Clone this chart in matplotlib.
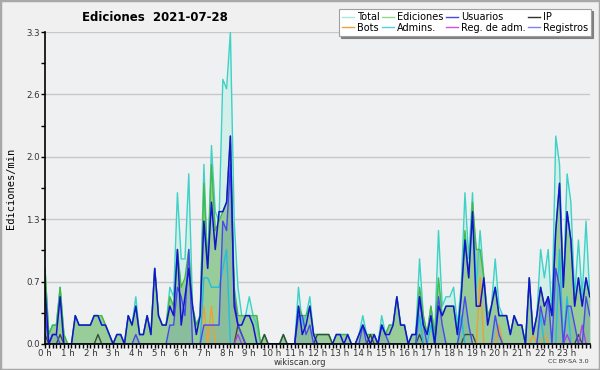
import matplotlib
matplotlib.use("Agg")
import matplotlib.pyplot as plt
from matplotlib.lines import Line2D
from matplotlib.patches import Rectangle
import numpy as np

# edits per minute, 10-minute buckets, 0:00 .. 24:00
total = [
    0.8, 0.1, 0.2, 0.2, 0.6, 0.1, 0.0, 0.0, 0.3, 0.2, 0.2, 0.2,
    0.2, 0.3, 0.3, 0.2, 0.2, 0.1, 0.0, 0.1, 0.1, 0.0, 0.3, 0.2,
    0.5, 0.1, 0.1, 0.3, 0.1, 0.8, 0.3, 0.2, 0.2, 0.6, 0.5, 1.6,
    0.9, 0.9, 1.8, 0.4, 0.2, 0.3, 1.9, 0.8, 2.1, 1.4, 1.3, 2.8,
    2.7, 3.3, 1.3, 0.6, 0.3, 0.3, 0.5, 0.3, 0.2, 0.0, 0.1, 0.0,
    0.0, 0.0, 0.0, 0.1, 0.0, 0.0, 0.0, 0.6, 0.2, 0.3, 0.5, 0.1,
    0.1, 0.1, 0.1, 0.1, 0.0, 0.1, 0.1, 0.1, 0.1, 0.0, 0.0, 0.1,
    0.3, 0.1, 0.1, 0.1, 0.0, 0.3, 0.1, 0.2, 0.2, 0.5, 0.2, 0.2,
    0.0, 0.1, 0.1, 0.9, 0.3, 0.1, 0.4, 0.1, 1.2, 0.4, 0.5, 0.5,
    0.6, 0.2, 0.6, 1.6, 0.9, 1.6, 0.6, 1.2, 0.7, 0.3, 0.4, 0.9,
    0.4, 0.3, 0.3, 0.1, 0.3, 0.2, 0.2, 0.0, 0.7, 0.1, 0.3, 1.0,
    0.7, 1.0, 0.3, 2.2, 1.9, 0.6, 1.8, 1.5, 0.5, 1.1, 0.5, 1.3,
    0.5]

ediciones = [
    0.8, 0.1, 0.2, 0.2, 0.6, 0.1, 0.0, 0.0, 0.3, 0.2, 0.2, 0.2,
    0.2, 0.3, 0.3, 0.3, 0.2, 0.1, 0.0, 0.1, 0.1, 0.0, 0.3, 0.2,
    0.4, 0.1, 0.1, 0.3, 0.1, 0.8, 0.3, 0.2, 0.2, 0.5, 0.4, 1.0,
    0.6, 0.7, 1.0, 0.4, 0.2, 0.3, 1.7, 0.8, 1.9, 1.2, 1.3, 1.4,
    1.5, 2.2, 0.6, 0.3, 0.3, 0.3, 0.3, 0.3, 0.3, 0.0, 0.1, 0.0,
    0.0, 0.0, 0.0, 0.1, 0.0, 0.0, 0.0, 0.4, 0.3, 0.3, 0.4, 0.1,
    0.1, 0.1, 0.1, 0.1, 0.0, 0.1, 0.1, 0.1, 0.1, 0.0, 0.0, 0.1,
    0.2, 0.1, 0.1, 0.1, 0.0, 0.2, 0.1, 0.2, 0.2, 0.5, 0.2, 0.2,
    0.0, 0.1, 0.1, 0.6, 0.3, 0.1, 0.4, 0.1, 0.7, 0.3, 0.4, 0.4,
    0.4, 0.1, 0.5, 1.2, 0.7, 1.5, 1.0, 1.0, 0.7, 0.3, 0.4, 0.6,
    0.3, 0.3, 0.3, 0.1, 0.3, 0.2, 0.2, 0.0, 0.7, 0.1, 0.3, 0.6,
    0.4, 0.5, 0.3, 1.2, 1.7, 0.6, 1.4, 1.1, 0.4, 0.7, 0.4, 0.7,
    0.5]

usuarios = [
    0.6, 0.0, 0.1, 0.1, 0.5, 0.0, 0.0, 0.0, 0.3, 0.2, 0.2, 0.2,
    0.2, 0.3, 0.3, 0.2, 0.2, 0.1, 0.0, 0.1, 0.1, 0.0, 0.3, 0.2,
    0.4, 0.1, 0.1, 0.3, 0.1, 0.8, 0.3, 0.2, 0.2, 0.4, 0.3, 1.0,
    0.2, 0.5, 0.8, 0.4, 0.1, 0.3, 1.3, 0.8, 1.5, 1.0, 1.4, 1.4,
    1.5, 2.2, 0.4, 0.2, 0.2, 0.3, 0.3, 0.2, 0.0, 0.0, 0.0, 0.0,
    0.0, 0.0, 0.0, 0.0, 0.0, 0.0, 0.0, 0.4, 0.1, 0.2, 0.4, 0.1,
    0.0, 0.0, 0.0, 0.0, 0.0, 0.1, 0.1, 0.0, 0.1, 0.0, 0.0, 0.1,
    0.2, 0.1, 0.0, 0.1, 0.0, 0.2, 0.1, 0.1, 0.2, 0.5, 0.2, 0.2,
    0.0, 0.1, 0.1, 0.5, 0.2, 0.1, 0.3, 0.0, 0.4, 0.3, 0.4, 0.4,
    0.4, 0.1, 0.5, 1.1, 0.7, 1.4, 0.4, 0.4, 0.7, 0.2, 0.4, 0.6,
    0.3, 0.3, 0.3, 0.1, 0.3, 0.2, 0.2, 0.0, 0.7, 0.1, 0.3, 0.6,
    0.4, 0.5, 0.3, 1.2, 1.7, 0.6, 1.4, 1.1, 0.4, 0.7, 0.4, 0.7,
    0.5]

registros = [
    0.3, 0.0, 0.1, 0.1, 0.0, 0.0, 0.0, 0.0, 0.0, 0.0, 0.0, 0.0,
    0.0, 0.0, 0.0, 0.0, 0.0, 0.0, 0.0, 0.0, 0.0, 0.0, 0.0, 0.0,
    0.1, 0.0, 0.0, 0.0, 0.0, 0.0, 0.0, 0.0, 0.0, 0.2, 0.2, 0.6,
    0.5, 0.3, 1.0, 0.0, 0.0, 0.0, 0.2, 0.2, 0.2, 0.2, 0.2, 1.3,
    1.2, 1.9, 0.5, 0.2, 0.1, 0.0, 0.0, 0.0, 0.0, 0.0, 0.0, 0.0,
    0.0, 0.0, 0.0, 0.0, 0.0, 0.0, 0.0, 0.3, 0.3, 0.1, 0.2, 0.0,
    0.0, 0.0, 0.0, 0.0, 0.0, 0.0, 0.0, 0.0, 0.0, 0.0, 0.0, 0.0,
    0.2, 0.0, 0.0, 0.0, 0.0, 0.2, 0.1, 0.0, 0.0, 0.0, 0.0, 0.0,
    0.0, 0.0, 0.0, 0.5, 0.2, 0.0, 0.0, 0.0, 0.5, 0.2, 0.0, 0.0,
    0.0, 0.0, 0.2, 0.5, 0.2, 0.0, 0.0, 0.0, 0.0, 0.0, 0.0, 0.3,
    0.1, 0.0, 0.0, 0.0, 0.0, 0.0, 0.0, 0.0, 0.0, 0.0, 0.0, 0.4,
    0.2, 0.5, 0.0, 0.8, 0.6, 0.0, 0.4, 0.4, 0.2, 0.0, 0.0, 0.5,
    0.3]

ip = [
    0.1, 0.0, 0.0, 0.0, 0.1, 0.0, 0.0, 0.0, 0.0, 0.0, 0.0, 0.0,
    0.0, 0.0, 0.1, 0.0, 0.0, 0.0, 0.0, 0.0, 0.0, 0.0, 0.0, 0.0,
    0.0, 0.0, 0.0, 0.0, 0.0, 0.0, 0.0, 0.0, 0.0, 0.0, 0.0, 0.0,
    0.0, 0.0, 0.0, 0.0, 0.0, 0.0, 0.0, 0.0, 0.0, 0.0, 0.0, 0.0,
    0.0, 0.0, 0.0, 0.2, 0.1, 0.0, 0.0, 0.0, 0.0, 0.0, 0.1, 0.0,
    0.0, 0.0, 0.0, 0.1, 0.0, 0.0, 0.0, 0.0, 0.0, 0.0, 0.0, 0.0,
    0.1, 0.1, 0.1, 0.1, 0.0, 0.0, 0.0, 0.0, 0.0, 0.0, 0.0, 0.0,
    0.0, 0.0, 0.1, 0.0, 0.0, 0.0, 0.0, 0.0, 0.0, 0.0, 0.0, 0.0,
    0.0, 0.0, 0.0, 0.1, 0.0, 0.0, 0.0, 0.0, 0.0, 0.0, 0.0, 0.0,
    0.0, 0.0, 0.0, 0.1, 0.1, 0.1, 0.0, 0.0, 0.0, 0.0, 0.0, 0.0,
    0.0, 0.0, 0.0, 0.0, 0.0, 0.0, 0.0, 0.0, 0.0, 0.0, 0.0, 0.0,
    0.0, 0.0, 0.0, 0.0, 0.0, 0.0, 0.0, 0.0, 0.0, 0.1, 0.0, 0.0,
    0.0]

bots = [
    0.0, 0.0, 0.0, 0.0, 0.0, 0.0, 0.0, 0.0, 0.0, 0.0, 0.0, 0.0,
    0.0, 0.0, 0.0, 0.0, 0.0, 0.0, 0.0, 0.0, 0.0, 0.0, 0.0, 0.0,
    0.0, 0.0, 0.0, 0.0, 0.0, 0.0, 0.0, 0.0, 0.0, 0.0, 0.0, 0.0,
    0.0, 0.0, 0.0, 0.0, 0.0, 0.0, 0.4, 0.0, 0.4, 0.0, 0.0, 0.0,
    0.0, 0.0, 0.0, 0.0, 0.0, 0.0, 0.0, 0.0, 0.0, 0.0, 0.0, 0.0,
    0.0, 0.0, 0.0, 0.0, 0.0, 0.0, 0.0, 0.0, 0.0, 0.0, 0.0, 0.0,
    0.0, 0.0, 0.0, 0.0, 0.0, 0.0, 0.0, 0.0, 0.0, 0.0, 0.0, 0.0,
    0.0, 0.0, 0.0, 0.0, 0.0, 0.0, 0.0, 0.0, 0.0, 0.0, 0.0, 0.0,
    0.0, 0.0, 0.0, 0.0, 0.0, 0.0, 0.0, 0.0, 0.0, 0.0, 0.0, 0.0,
    0.0, 0.0, 0.0, 0.0, 0.0, 0.0, 0.0, 0.7, 0.0, 0.0, 0.0, 0.0,
    0.2, 0.0, 0.0, 0.0, 0.0, 0.0, 0.0, 0.0, 0.0, 0.1, 0.0, 0.0,
    0.1, 0.0, 0.0, 0.0, 0.0, 0.0, 0.0, 0.0, 0.0, 0.0, 0.0, 0.0,
    0.0]

admins = [
    0.0, 0.0, 0.0, 0.0, 0.0, 0.0, 0.0, 0.0, 0.0, 0.0, 0.0, 0.0,
    0.0, 0.0, 0.0, 0.0, 0.0, 0.0, 0.0, 0.0, 0.0, 0.0, 0.0, 0.0,
    0.0, 0.0, 0.0, 0.0, 0.0, 0.0, 0.0, 0.0, 0.0, 0.0, 0.0, 0.0,
    0.0, 0.0, 0.0, 0.0, 0.0, 0.0, 0.7, 0.7, 0.6, 0.6, 0.6, 0.8,
    1.0, 0.0, 0.0, 0.0, 0.0, 0.0, 0.0, 0.0, 0.0, 0.0, 0.0, 0.0,
    0.0, 0.0, 0.0, 0.0, 0.0, 0.0, 0.0, 0.0, 0.0, 0.0, 0.0, 0.0,
    0.0, 0.0, 0.0, 0.0, 0.0, 0.0, 0.0, 0.0, 0.0, 0.0, 0.0, 0.0,
    0.0, 0.0, 0.0, 0.0, 0.0, 0.0, 0.0, 0.0, 0.0, 0.0, 0.0, 0.0,
    0.0, 0.0, 0.0, 0.3, 0.0, 0.0, 0.2, 0.0, 0.0, 0.0, 0.0, 0.0,
    0.0, 0.0, 0.3, 0.0, 0.0, 0.0, 0.0, 0.0, 0.0, 0.0, 0.0, 0.0,
    0.0, 0.0, 0.0, 0.0, 0.0, 0.0, 0.0, 0.0, 0.0, 0.0, 0.0, 0.3,
    0.0, 0.0, 0.0, 0.0, 1.0, 0.0, 0.5, 0.0, 0.0, 0.0, 0.0, 0.0,
    0.0]

reg_adm = [0.0] * 51 + [0.1] + [0.0] * 86 + [0.1, 0.0, 0.0, 0.0, 0.2, 0.0, 0.0]

hour_labels = [f"{h} h" for h in range(24)]
y_ticks = np.linspace(0, 3.3, 6)

x = np.arange(len(total)) / 6.0

fig = plt.figure(figsize=(6, 3.7), dpi=100, facecolor="#f0f0f0")
fig.patches.append(Rectangle((0, 0), 1, 1, transform=fig.transFigure,
                             fill=False, edgecolor="#a8a8a8", lw=2.5))
ax = fig.add_axes([0.075, 0.0703, 0.908, 0.843])
ax.set_facecolor("#eef0f2")

# areas
ax.fill_between(x, total, color="#d4efea", lw=0)
ax.fill_between(x, ediciones, color="#98cc98", lw=0)
ax.fill_between(x, registros, color="#4070b0", alpha=0.16, lw=0)

# lines
ax.plot(x, total, color="#3ed2c6", lw=1.0)
ax.plot(x, ediciones, color="#44b844", lw=1.0)
ax.plot(x, ip, color="#3a4a3a", lw=1.0)
ax.plot(x, bots, color="#f0a030", lw=1.0)
ax.plot(x, admins, color="#22c0dc", lw=1.0)
ax.plot(x, reg_adm, color="#b040e0", lw=1.0)
ax.plot(x, registros, color="#4848f0", lw=1.0)
ax.plot(x, usuarios, color="#1414d0", lw=1.1)

ax.set_xlim(0, 24)
ax.set_ylim(0, 3.3)
ax.set_xticks(range(24))
ax.set_xticklabels(hour_labels)
ax.set_xticks(np.arange(0, 24.01, 1 / 6), minor=True)
ax.set_yticks(y_ticks)
ax.set_yticklabels([f"{v:.1f}" for v in y_ticks])
ax.set_yticks((y_ticks[:-1] + y_ticks[1:]) / 2, minor=True)
ax.tick_params(which="both", length=3, width=1, labelsize=6.2,
               labelcolor="#333333", pad=0.5)
ax.yaxis.grid(True, color="#c8c8c8", lw=1)
ax.set_axisbelow(True)
for s in ["top", "right"]:
    ax.spines[s].set_visible(False)
for s in ["left", "bottom"]:
    ax.spines[s].set_linewidth(1.2)
    ax.spines[s].set_zorder(5)

fig.text(0.258, 0.952, "Ediciones  2021-07-28", fontsize=8.5,
         weight="bold", ha="center", va="center")
fig.text(0.018, 0.49, "Ediciones/min", rotation=90, fontsize=7.5,
         family="DejaVu Sans Mono", ha="center", va="center")
fig.text(0.5, 0.021, "wikiscan.org", fontsize=6, ha="center",
         va="center", color="#333333")
fig.text(0.947, 0.022, "CC BY-SA 3.0", fontsize=4.6, ha="center",
         va="center", color="#333333")

# legend
names = ["Total", "Bots", "Ediciones", "Admins.", "Usuarios",
         "Reg. de adm.", "IP", "Registros"]
colors = ["#a8e8e0", "#f0a040", "#90d890", "#50d0e0", "#4848e0",
          "#d050e0", "#303030", "#8080f0"]
handles = [Line2D([], [], color=c, lw=1) for c in colors]
leg = fig.legend(handles, names, ncol=4, loc="upper right",
                 bbox_to_anchor=(0.985, 0.975), fontsize=7,
                 frameon=True, fancybox=False,
                 shadow={"ox": 1.5, "oy": -1.5, "color": "#808080", "alpha": 1},
                 handlelength=1.2, handletextpad=0.3, columnspacing=0.3,
                 labelspacing=0.05, borderpad=0.3, borderaxespad=0)
leg.get_frame().set_edgecolor("#a0a0a0")
leg.get_frame().set_linewidth(0.8)

fig.savefig("out.png", dpi=100, facecolor=fig.get_facecolor())
